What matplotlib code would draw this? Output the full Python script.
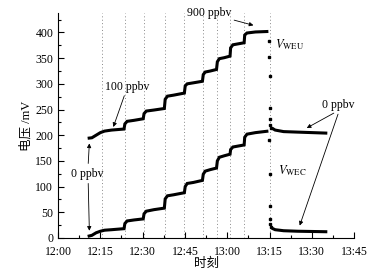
import matplotlib
matplotlib.use("Agg")
from matplotlib import pyplot as plt
from matplotlib.ticker import MultipleLocator

plt.rcParams["font.family"] = ["Liberation Serif", "Noto Sans CJK SC"]
plt.rcParams["mathtext.fontset"] = "stix"

# time in minutes after 12:00
tick_minutes = [0, 15, 30, 45, 60, 75, 90, 105]
tick_labels = ["12:00", "12:15", "12:30", "12:45", "13:00", "13:15", "13:30", "13:45"]

# moments where the gas concentration was changed (dotted lines)
switch_times = [15.7, 23.6, 30.4, 37.9, 44.8, 51.4, 56.4, 61.1, 66.1, 75.0]

# V_WEU while stepping 0..900 ppbv, then the recovery at 0 ppbv
weu_t = [10.5, 12, 13.5, 15, 16.5, 19, 23.4,
         23.7, 24.5, 27, 30.2,
         30.5, 31.3, 34, 37.7,
         38.0, 38.8, 41, 44.8,
         45.1, 45.8, 48, 51.2,
         51.5, 52.2, 54, 56.2,
         56.5, 57.2, 59, 61.0,
         61.2, 62, 64, 66.0,
         66.2, 67, 70, 74.6]
weu_v = [194, 195, 200, 205, 208, 210, 212,
         222, 227, 229, 232,
         242, 247, 249, 252,
         270, 276, 278, 282,
         296, 300, 302, 305,
         318, 323, 325, 328,
         343, 349, 351, 354,
         370, 376, 378, 380,
         395, 399, 401, 402]
weu_drop_t = [74.8, 74.9, 75.0, 75.1, 75.2, 75.3, 75.5]
weu_drop_v = [383, 353, 316, 252, 231, 219, 214]
weu_rec_t = [75.8, 77, 80, 85, 95.5]
weu_rec_v = [214, 210, 207, 206, 204]

# V_WEC
wec_t = weu_t
wec_v = [3, 5, 10, 13, 15, 16, 18,
         28, 33, 35, 37,
         47, 52, 55, 58,
         76, 82, 84, 88,
         100, 106, 108, 112,
         124, 130, 133, 136,
         150, 157, 160, 163,
         172, 177, 179, 181,
         196, 202, 205, 208]
wec_drop_t = [74.9, 75.0, 75.1, 75.2, 75.3, 75.5]
wec_drop_v = [190, 124, 62, 37, 27, 21]
wec_rec_t = [75.8, 77, 80, 85, 95.5]
wec_rec_v = [19, 16, 14, 13, 12]

fig = plt.figure(figsize=(3.87, 2.76), dpi=100)
ax = fig.add_axes([0.150, 0.138, 0.765, 0.815])

for t in switch_times:
    ax.axvline(t, color="#888888", linestyle=(0, (1, 2.5)), linewidth=0.7, zorder=1)

for ts, vs in [(weu_t, weu_v), (weu_rec_t, weu_rec_v),
               (wec_t, wec_v), (wec_rec_t, wec_rec_v)]:
    ax.plot(ts, vs, color="black", linewidth=2.2, solid_capstyle="butt",
            solid_joinstyle="miter", zorder=3)
ax.plot(weu_drop_t, weu_drop_v, "s", color="black", markersize=2, zorder=3)
ax.plot(wec_drop_t, wec_drop_v, "s", color="black", markersize=2, zorder=3)

ax.set_xlim(0, 105)
ax.set_ylim(0, 438)
ax.set_xticks(tick_minutes)
ax.set_xticklabels(tick_labels)
ax.xaxis.set_minor_locator(MultipleLocator(7.5))
ax.set_yticks(range(0, 401, 50))
ax.yaxis.set_minor_locator(MultipleLocator(25))
ax.tick_params(which="major", direction="in", length=4, width=0.8, labelsize=8.5)
ax.tick_params(which="minor", direction="in", length=2.5, width=0.8)
ax.tick_params(axis="x", pad=6)
ax.spines["top"].set_visible(False)
ax.spines["right"].set_visible(False)

ax.set_xlabel("时刻", fontsize=9, labelpad=0)
ax.set_ylabel("电压 /mV", fontsize=9, labelpad=2)

arrow = dict(arrowstyle="-|>", color="black", linewidth=0.6, mutation_scale=6,
             shrinkA=0, shrinkB=0)
ax.annotate("900 ppbv", xy=(69.3, 414), xytext=(53.6, 437), fontsize=8.5,
            ha="center", va="center", arrowprops=arrow, annotation_clip=False)
ax.annotate("100 ppbv", xy=(19.6, 216), xytext=(24.6, 294), fontsize=8.5,
            ha="center", va="center", arrowprops=arrow)
ax.annotate("", xy=(11.1, 184), xytext=(10.7, 145), arrowprops=arrow)
ax.annotate("", xy=(11.1, 14), xytext=(10.7, 106), arrowprops=arrow)
ax.text(10.4, 125, "0 ppbv", fontsize=8.5, ha="center", va="center")
ax.annotate("", xy=(88.2, 214), xytext=(97.8, 243), arrowprops=arrow)
ax.annotate("", xy=(85.7, 24), xytext=(99.3, 241), arrowprops=arrow)
ax.text(99.2, 259, "0 ppbv", fontsize=8.5, ha="center", va="center")
ax.text(82, 376, r"$V_{\mathrm{WEU}}$", fontsize=9, ha="center", va="center")
ax.text(83.2, 131, r"$V_{\mathrm{WEC}}$", fontsize=9, ha="center", va="center")

fig.savefig("out.png", dpi=100)
